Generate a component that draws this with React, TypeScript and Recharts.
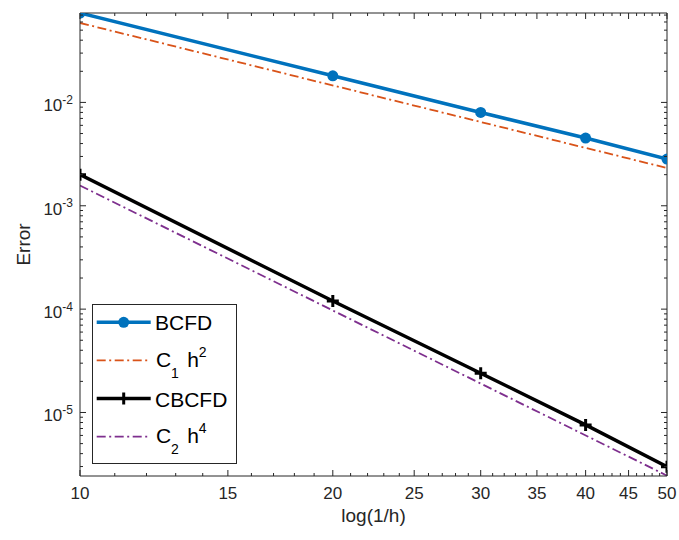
import React from 'react';
import { LineChart, Line, XAxis, YAxis, Legend, Label } from 'recharts';

// ---- data ----
const hInv = [10, 20, 30, 40, 50];
const bcfdErr = [0.0733, 0.0181, 0.008, 0.00452, 0.00283];
const cbcfdErr = [0.002, 0.00012, 0.000024, 0.00000758, 0.00000299];
const refH = [10, 50];
const c1h2Err = [0.0587, 0.00232];
const c2h4Err = [0.00157, 0.00000245];

// ---- axes ----
const xDomain = [10, 50];
const yDomain = [0.00000243, 0.0733];
const xMajorTicks = [10, 15, 20, 25, 30, 35, 40, 45, 50];
const xAllTicks = [
  10, 11, 12, 13, 14, 15, 16, 17, 18, 19, 20, 21, 22, 23, 24, 25, 26, 27, 28, 29, 30,
  31, 32, 33, 34, 35, 36, 37, 38, 39, 40, 41, 42, 43, 44, 45, 46, 47, 48, 49, 50,
];
const yMajorTicks = [1e-5, 1e-4, 1e-3, 1e-2];
const yAllTicks = [
  3e-6, 4e-6, 5e-6, 6e-6, 7e-6, 8e-6, 9e-6,
  1e-5, 2e-5, 3e-5, 4e-5, 5e-5, 6e-5, 7e-5, 8e-5, 9e-5,
  1e-4, 2e-4, 3e-4, 4e-4, 5e-4, 6e-4, 7e-4, 8e-4, 9e-4,
  1e-3, 2e-3, 3e-3, 4e-3, 5e-3, 6e-3, 7e-3, 8e-3, 9e-3,
  1e-2, 2e-2, 3e-2, 4e-2, 5e-2, 6e-2, 7e-2,
];
const xTitle = 'log(1/h)';
const yTitle = 'Error';

const bcfdData = hInv.map((h, i) => ({ h, err: bcfdErr[i] }));
const cbcfdData = hInv.map((h, i) => ({ h, err: cbcfdErr[i] }));
const c1Data = refH.map((h, i) => ({ h, err: c1h2Err[i] }));
const c2Data = refH.map((h, i) => ({ h, err: c2h4Err[i] }));

const AX = '#262626';
const FONT = '"Liberation Sans", Arial, Helvetica, sans-serif';
const BLUE = '#0072BD';
const ORANGE = '#D95319';
const PURPLE = '#7E2F8E';
const DASHDOT = '9 3.5 2 3.5';

const isMajor = (arr: number[], v: number) => arr.some((m) => Math.abs(m - v) / m < 1e-6);

const BottomTick = (props: any) => {
  const { x, y, payload } = props;
  const major = isMajor(xMajorTicks, payload.value);
  return (
    <g>
      <line x1={x} y1={y} x2={x} y2={y - (major ? 6 : 3)} stroke={AX} strokeWidth={1} />
      {major && (
        <text x={x} y={y + 23} textAnchor="middle" fontSize={17} fill={AX} fontFamily={FONT}>
          {payload.value}
        </text>
      )}
    </g>
  );
};

const TopTick = (props: any) => {
  const { x, y, payload } = props;
  const major = isMajor(xMajorTicks, payload.value);
  return <line x1={x} y1={y} x2={x} y2={y + (major ? 6 : 3)} stroke={AX} strokeWidth={1} />;
};

const LeftTick = (props: any) => {
  const { x, y, payload } = props;
  const major = isMajor(yMajorTicks, payload.value);
  const exp = Math.round(Math.log10(payload.value));
  return (
    <g>
      <line x1={x} y1={y} x2={x + (major ? 6 : 3)} y2={y} stroke={AX} strokeWidth={1} />
      {major && (
        <text x={x - 7} y={y + 9} textAnchor="end" fontSize={17} fill={AX} fontFamily={FONT}>
          10
          <tspan fontSize={12} dy={-7.5}>
            {String(exp)}
          </tspan>
        </text>
      )}
    </g>
  );
};

const RightTick = (props: any) => {
  const { x, y, payload } = props;
  const major = isMajor(yMajorTicks, payload.value);
  return <line x1={x} y1={y} x2={x - (major ? 6 : 3)} y2={y} stroke={AX} strokeWidth={1} />;
};

const PlusDot = (props: any) => {
  const { cx, cy } = props;
  if (cx == null || cy == null) return <g />;
  return (
    <path
      d={`M${cx - 6},${cy}H${cx + 6}M${cx},${cy - 6}V${cy + 6}`}
      stroke="#000"
      strokeWidth={3}
      fill="none"
    />
  );
};

const legendRows = ['BCFD', 'C1h2', 'CBCFD', 'C2h4'];

const LegendBox = () => {
  const rowY = (i: number) => 18.3 + i * 38.1;
  const lx1 = 4.7;
  const lx2 = 58.7;
  const mid = (lx1 + lx2) / 2;
  const tx = 63;
  return (
    <svg width={146} height={161} style={{ display: 'block', overflow: 'visible' }}>
      <rect x={0.5} y={0.5} width={144} height={159} fill="#fff" stroke={AX} strokeWidth={1} />
      {legendRows.map((r, i) => {
        const cy = rowY(i);
        if (r === 'BCFD' || r === 'CBCFD') {
          const color = r === 'BCFD' ? BLUE : '#000';
          return (
            <g key={r}>
              <line x1={lx1} y1={cy} x2={lx2} y2={cy} stroke={color} strokeWidth={3.5} />
              {r === 'BCFD' ? (
                <circle cx={mid} cy={cy} r={5.5} fill={BLUE} />
              ) : (
                <PlusDot cx={mid} cy={cy} />
              )}
              <text x={tx} y={cy + 8} fontSize={21} fill="#000" fontFamily={FONT}>
                {r}
              </text>
            </g>
          );
        }
        const color = r === 'C1h2' ? ORANGE : PURPLE;
        const sub = r === 'C1h2' ? '1' : '2';
        const sup = r === 'C1h2' ? '2' : '4';
        const base = cy + 6.6;
        return (
          <g key={r}>
            <line x1={lx1} y1={cy} x2={lx2} y2={cy} stroke={color} strokeWidth={1.8} strokeDasharray={DASHDOT} />
            <text fontFamily={FONT} fill="#000">
              <tspan x={64} y={base} fontSize={21}>C</tspan>
              <tspan x={79} y={base + 11} fontSize={14}>{sub}</tspan>
              <tspan x={95.3} y={base} fontSize={21}>h</tspan>
              <tspan x={106.7} y={base - 10} fontSize={14}>{sup}</tspan>
            </text>
          </g>
        );
      })}
    </svg>
  );
};

export default function App() {
  return (
    <div style={{ position: 'absolute', left: 0, top: 0, width: 679, height: 540, background: '#fff' }}>
      <LineChart width={679} height={540} margin={{ top: 12, right: 11, bottom: 63, left: 79 }}>
        <XAxis
          xAxisId="b"
          dataKey="h"
          type="number"
          scale="log"
          domain={xDomain}
          allowDataOverflow
          ticks={xAllTicks}
          interval={0}
          orientation="bottom"
          height={1}
          tickSize={0}
          tickMargin={0}
          tickLine={false}
          axisLine={{ stroke: AX, strokeWidth: 1 }}
          tick={BottomTick}
        >
          <Label
            content={() => (
              <text x={373.5} y={522} textAnchor="middle" fontSize={19} fill={AX} fontFamily={FONT}>
                {xTitle}
              </text>
            )}
          />
        </XAxis>
        <XAxis
          xAxisId="t"
          dataKey="h"
          type="number"
          scale="log"
          domain={xDomain}
          allowDataOverflow
          ticks={xAllTicks}
          interval={0}
          orientation="top"
          height={1}
          tickSize={0}
          tickMargin={0}
          tickLine={false}
          axisLine={{ stroke: AX, strokeWidth: 1 }}
          tick={TopTick}
        />
        <YAxis
          yAxisId="l"
          type="number"
          scale="log"
          domain={yDomain}
          allowDataOverflow
          ticks={yAllTicks}
          interval={0}
          orientation="left"
          width={1}
          tickSize={0}
          tickMargin={0}
          tickLine={false}
          axisLine={{ stroke: AX, strokeWidth: 1 }}
          tick={LeftTick}
        >
          <Label
            content={() => (
              <text
                x={0}
                y={0}
                transform="translate(30,244.5) rotate(-90)"
                textAnchor="middle"
                fontSize={19}
                fill={AX}
                fontFamily={FONT}
              >
                {yTitle}
              </text>
            )}
          />
        </YAxis>
        <YAxis
          yAxisId="r"
          type="number"
          scale="log"
          domain={yDomain}
          allowDataOverflow
          ticks={yAllTicks}
          interval={0}
          orientation="right"
          width={1}
          tickSize={0}
          tickMargin={0}
          tickLine={false}
          axisLine={{ stroke: AX, strokeWidth: 1 }}
          tick={RightTick}
        />
        <Line
          xAxisId="b"
          yAxisId="l"
          data={c1Data}
          dataKey="err"
          stroke={ORANGE}
          strokeWidth={1.8}
          strokeDasharray={DASHDOT}
          dot={false}
          isAnimationActive={false}
        />
        <Line
          xAxisId="b"
          yAxisId="l"
          data={c2Data}
          dataKey="err"
          stroke={PURPLE}
          strokeWidth={1.8}
          strokeDasharray={DASHDOT}
          dot={false}
          isAnimationActive={false}
        />
        <Line
          xAxisId="b"
          yAxisId="l"
          data={bcfdData}
          dataKey="err"
          stroke={BLUE}
          strokeWidth={3.5}
          dot={{ r: 5.5, fill: BLUE, stroke: 'none' }}
          isAnimationActive={false}
        />
        <Line
          xAxisId="b"
          yAxisId="l"
          data={cbcfdData}
          dataKey="err"
          stroke="#000"
          strokeWidth={3.5}
          dot={PlusDot}
          isAnimationActive={false}
        />
        <Legend
          layout="vertical"
          align="center"
          verticalAlign="middle"
          wrapperStyle={{ left: 92, top: 304, width: 146, height: 161, right: 'auto', bottom: 'auto' }}
          content={() => <LegendBox />}
        />
      </LineChart>
    </div>
  );
}
